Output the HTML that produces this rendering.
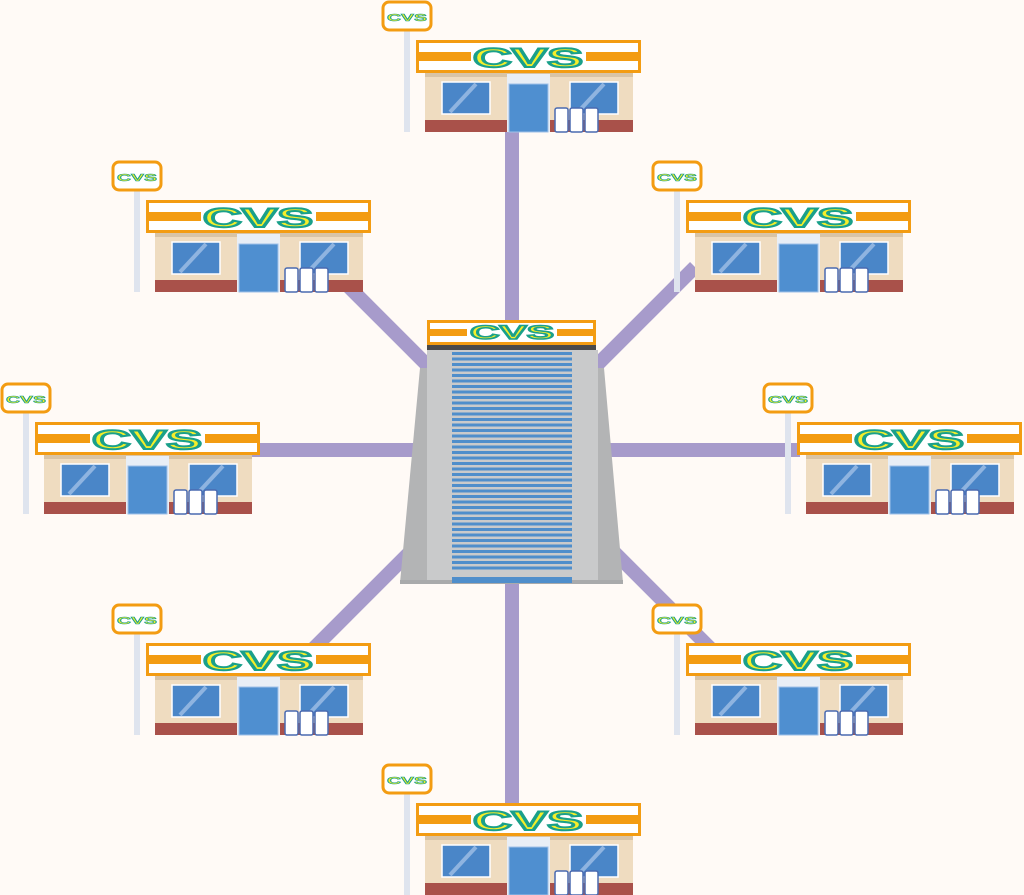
<!DOCTYPE html>
<html><head><meta charset="utf-8"><style>html,body{margin:0;padding:0;background:#fffaf6;}svg{display:block}</style></head>
<body>
<svg width="1024" height="895" viewBox="0 0 1024 895" xmlns="http://www.w3.org/2000/svg" font-family="Liberation Sans, sans-serif">
<defs>
<linearGradient id="g" x1="0" y1="0" x2="0" y2="1"><stop offset="0" stop-color="#4a88cc"/><stop offset="1" stop-color="#4a88cc"/></linearGradient>
</defs>
<g stroke="#a79bcb" stroke-width="14" stroke-linecap="butt">
<line x1="512" y1="450" x2="512" y2="130"/>
<line x1="512" y1="450" x2="512" y2="805"/>
<line x1="512" y1="450" x2="250" y2="450"/>
<line x1="512" y1="450" x2="800" y2="450"/>
<line x1="512" y1="450" x2="340" y2="278"/>
<line x1="512" y1="450" x2="695" y2="267"/>
<line x1="512" y1="450" x2="300" y2="662"/>
<line x1="512" y1="450" x2="720" y2="658"/>
</g>
<!-- central building -->
<polygon points="420,368 427,368 427,583 400,583" fill="#b3b4b5"/>
<polygon points="598,368 604,368 623,583 598,583" fill="#b3b4b5"/>
<rect x="427" y="350" width="171" height="233" fill="#c9cacb"/>
<rect x="400" y="580" width="223" height="4" fill="#a9aaab"/>
<g fill="#4f8ecb">
<rect x="452" y="352" width="120" height="3"/><rect x="452" y="357.5" width="120" height="3"/><rect x="452" y="363" width="120" height="3"/><rect x="452" y="368.5" width="120" height="3"/><rect x="452" y="374" width="120" height="3"/><rect x="452" y="379.5" width="120" height="3"/><rect x="452" y="385" width="120" height="3"/><rect x="452" y="390.5" width="120" height="3"/><rect x="452" y="396" width="120" height="3"/><rect x="452" y="401.5" width="120" height="3"/><rect x="452" y="407" width="120" height="3"/><rect x="452" y="412.5" width="120" height="3"/><rect x="452" y="418" width="120" height="3"/><rect x="452" y="423.5" width="120" height="3"/><rect x="452" y="429" width="120" height="3"/><rect x="452" y="434.5" width="120" height="3"/><rect x="452" y="440" width="120" height="3"/><rect x="452" y="445.5" width="120" height="3"/><rect x="452" y="451" width="120" height="3"/><rect x="452" y="456.5" width="120" height="3"/><rect x="452" y="462" width="120" height="3"/><rect x="452" y="467.5" width="120" height="3"/><rect x="452" y="473" width="120" height="3"/><rect x="452" y="478.5" width="120" height="3"/><rect x="452" y="484" width="120" height="3"/><rect x="452" y="489.5" width="120" height="3"/><rect x="452" y="495" width="120" height="3"/><rect x="452" y="500.5" width="120" height="3"/><rect x="452" y="506" width="120" height="3"/><rect x="452" y="511.5" width="120" height="3"/><rect x="452" y="517" width="120" height="3"/><rect x="452" y="522.5" width="120" height="3"/><rect x="452" y="528" width="120" height="3"/><rect x="452" y="533.5" width="120" height="3"/><rect x="452" y="539" width="120" height="3"/><rect x="452" y="544.5" width="120" height="3"/><rect x="452" y="550" width="120" height="3"/><rect x="452" y="555.5" width="120" height="3"/><rect x="452" y="561" width="120" height="3"/><rect x="452" y="566.5" width="120" height="3"/>
<rect x="452" y="577" width="120" height="6"/>
</g>
<rect x="427" y="344" width="169" height="6" fill="#4a4a4a"/>
<rect x="427" y="320" width="169" height="25" fill="#f39c12"/>
<rect x="430" y="323" width="163" height="19" fill="#fff"/>
<rect x="430" y="329" width="163" height="7" fill="#f39c12"/>
<rect x="467" y="324" width="90" height="17" fill="#fff"/>
<text x="512" y="339" text-anchor="middle" font-size="19" font-weight="bold" fill="#f4ee2a" stroke="#1aa08a" stroke-width="1.5" textLength="84" lengthAdjust="spacingAndGlyphs">CVS</text>

<!-- store template repeated -->
<g transform="translate(416,40)">
<rect x="-12" y="-12" width="6" height="104" fill="#dfe4ee"/>
<rect x="-33" y="-38" width="48" height="28" rx="6" fill="#fff" stroke="#f39c12" stroke-width="3"/>
<text x="-9" y="-19" text-anchor="middle" font-size="10" font-weight="bold" fill="#f4ee2a" stroke="#1aa08a" stroke-width="0.6" textLength="40" lengthAdjust="spacingAndGlyphs">CVS</text>
<rect x="9" y="33" width="208" height="59" fill="#efdcc0"/><rect x="9" y="33" width="208" height="4" fill="#d8c4a6"/>
<rect x="9" y="80" width="208" height="12" fill="#a9514a"/>
<rect x="26" y="42" width="48" height="32" fill="#4a86c8" stroke="#fff" stroke-width="1.5"/><line x1="34" y1="72" x2="60" y2="44" stroke="#8fb4e0" stroke-width="4"/>
<rect x="154" y="42" width="48" height="32" fill="#4a86c8" stroke="#fff" stroke-width="1.5"/><line x1="162" y1="72" x2="188" y2="44" stroke="#8fb4e0" stroke-width="4"/>
<rect x="91" y="34" width="43" height="58" fill="#e8eef6"/><rect x="93" y="44" width="39" height="48" fill="#4f8fd0" stroke="#9fc0e8"/>
<rect x="139" y="68" width="13" height="24" rx="2" fill="#fff" stroke="#4a6ab0" stroke-width="1.5"/><rect x="154" y="68" width="13" height="24" rx="2" fill="#fff" stroke="#4a6ab0" stroke-width="1.5"/><rect x="169" y="68" width="13" height="24" rx="2" fill="#fff" stroke="#4a6ab0" stroke-width="1.5"/>
<rect x="0" y="0" width="225" height="33" fill="#f39c12"/><rect x="3" y="3" width="219" height="27" fill="#fff"/><rect x="3" y="12" width="219" height="9" fill="#f39c12"/><rect x="55" y="4" width="115" height="25" fill="#fff"/>
<text x="112" y="27" text-anchor="middle" font-size="27" font-weight="bold" fill="#f4ee2a" stroke="#1aa08a" stroke-width="2" textLength="110" lengthAdjust="spacingAndGlyphs">CVS</text>
</g>
<g transform="translate(146,200)">
<rect x="-12" y="-12" width="6" height="104" fill="#dfe4ee"/>
<rect x="-33" y="-38" width="48" height="28" rx="6" fill="#fff" stroke="#f39c12" stroke-width="3"/>
<text x="-9" y="-19" text-anchor="middle" font-size="10" font-weight="bold" fill="#f4ee2a" stroke="#1aa08a" stroke-width="0.6" textLength="40" lengthAdjust="spacingAndGlyphs">CVS</text>
<rect x="9" y="33" width="208" height="59" fill="#efdcc0"/><rect x="9" y="33" width="208" height="4" fill="#d8c4a6"/>
<rect x="9" y="80" width="208" height="12" fill="#a9514a"/>
<rect x="26" y="42" width="48" height="32" fill="#4a86c8" stroke="#fff" stroke-width="1.5"/><line x1="34" y1="72" x2="60" y2="44" stroke="#8fb4e0" stroke-width="4"/>
<rect x="154" y="42" width="48" height="32" fill="#4a86c8" stroke="#fff" stroke-width="1.5"/><line x1="162" y1="72" x2="188" y2="44" stroke="#8fb4e0" stroke-width="4"/>
<rect x="91" y="34" width="43" height="58" fill="#e8eef6"/><rect x="93" y="44" width="39" height="48" fill="#4f8fd0" stroke="#9fc0e8"/>
<rect x="139" y="68" width="13" height="24" rx="2" fill="#fff" stroke="#4a6ab0" stroke-width="1.5"/><rect x="154" y="68" width="13" height="24" rx="2" fill="#fff" stroke="#4a6ab0" stroke-width="1.5"/><rect x="169" y="68" width="13" height="24" rx="2" fill="#fff" stroke="#4a6ab0" stroke-width="1.5"/>
<rect x="0" y="0" width="225" height="33" fill="#f39c12"/><rect x="3" y="3" width="219" height="27" fill="#fff"/><rect x="3" y="12" width="219" height="9" fill="#f39c12"/><rect x="55" y="4" width="115" height="25" fill="#fff"/>
<text x="112" y="27" text-anchor="middle" font-size="27" font-weight="bold" fill="#f4ee2a" stroke="#1aa08a" stroke-width="2" textLength="110" lengthAdjust="spacingAndGlyphs">CVS</text>
</g>
<g transform="translate(686,200)">
<rect x="-12" y="-12" width="6" height="104" fill="#dfe4ee"/>
<rect x="-33" y="-38" width="48" height="28" rx="6" fill="#fff" stroke="#f39c12" stroke-width="3"/>
<text x="-9" y="-19" text-anchor="middle" font-size="10" font-weight="bold" fill="#f4ee2a" stroke="#1aa08a" stroke-width="0.6" textLength="40" lengthAdjust="spacingAndGlyphs">CVS</text>
<rect x="9" y="33" width="208" height="59" fill="#efdcc0"/><rect x="9" y="33" width="208" height="4" fill="#d8c4a6"/>
<rect x="9" y="80" width="208" height="12" fill="#a9514a"/>
<rect x="26" y="42" width="48" height="32" fill="#4a86c8" stroke="#fff" stroke-width="1.5"/><line x1="34" y1="72" x2="60" y2="44" stroke="#8fb4e0" stroke-width="4"/>
<rect x="154" y="42" width="48" height="32" fill="#4a86c8" stroke="#fff" stroke-width="1.5"/><line x1="162" y1="72" x2="188" y2="44" stroke="#8fb4e0" stroke-width="4"/>
<rect x="91" y="34" width="43" height="58" fill="#e8eef6"/><rect x="93" y="44" width="39" height="48" fill="#4f8fd0" stroke="#9fc0e8"/>
<rect x="139" y="68" width="13" height="24" rx="2" fill="#fff" stroke="#4a6ab0" stroke-width="1.5"/><rect x="154" y="68" width="13" height="24" rx="2" fill="#fff" stroke="#4a6ab0" stroke-width="1.5"/><rect x="169" y="68" width="13" height="24" rx="2" fill="#fff" stroke="#4a6ab0" stroke-width="1.5"/>
<rect x="0" y="0" width="225" height="33" fill="#f39c12"/><rect x="3" y="3" width="219" height="27" fill="#fff"/><rect x="3" y="12" width="219" height="9" fill="#f39c12"/><rect x="55" y="4" width="115" height="25" fill="#fff"/>
<text x="112" y="27" text-anchor="middle" font-size="27" font-weight="bold" fill="#f4ee2a" stroke="#1aa08a" stroke-width="2" textLength="110" lengthAdjust="spacingAndGlyphs">CVS</text>
</g>
<g transform="translate(35,422)">
<rect x="-12" y="-12" width="6" height="104" fill="#dfe4ee"/>
<rect x="-33" y="-38" width="48" height="28" rx="6" fill="#fff" stroke="#f39c12" stroke-width="3"/>
<text x="-9" y="-19" text-anchor="middle" font-size="10" font-weight="bold" fill="#f4ee2a" stroke="#1aa08a" stroke-width="0.6" textLength="40" lengthAdjust="spacingAndGlyphs">CVS</text>
<rect x="9" y="33" width="208" height="59" fill="#efdcc0"/><rect x="9" y="33" width="208" height="4" fill="#d8c4a6"/>
<rect x="9" y="80" width="208" height="12" fill="#a9514a"/>
<rect x="26" y="42" width="48" height="32" fill="#4a86c8" stroke="#fff" stroke-width="1.5"/><line x1="34" y1="72" x2="60" y2="44" stroke="#8fb4e0" stroke-width="4"/>
<rect x="154" y="42" width="48" height="32" fill="#4a86c8" stroke="#fff" stroke-width="1.5"/><line x1="162" y1="72" x2="188" y2="44" stroke="#8fb4e0" stroke-width="4"/>
<rect x="91" y="34" width="43" height="58" fill="#e8eef6"/><rect x="93" y="44" width="39" height="48" fill="#4f8fd0" stroke="#9fc0e8"/>
<rect x="139" y="68" width="13" height="24" rx="2" fill="#fff" stroke="#4a6ab0" stroke-width="1.5"/><rect x="154" y="68" width="13" height="24" rx="2" fill="#fff" stroke="#4a6ab0" stroke-width="1.5"/><rect x="169" y="68" width="13" height="24" rx="2" fill="#fff" stroke="#4a6ab0" stroke-width="1.5"/>
<rect x="0" y="0" width="225" height="33" fill="#f39c12"/><rect x="3" y="3" width="219" height="27" fill="#fff"/><rect x="3" y="12" width="219" height="9" fill="#f39c12"/><rect x="55" y="4" width="115" height="25" fill="#fff"/>
<text x="112" y="27" text-anchor="middle" font-size="27" font-weight="bold" fill="#f4ee2a" stroke="#1aa08a" stroke-width="2" textLength="110" lengthAdjust="spacingAndGlyphs">CVS</text>
</g>
<g transform="translate(797,422)">
<rect x="-12" y="-12" width="6" height="104" fill="#dfe4ee"/>
<rect x="-33" y="-38" width="48" height="28" rx="6" fill="#fff" stroke="#f39c12" stroke-width="3"/>
<text x="-9" y="-19" text-anchor="middle" font-size="10" font-weight="bold" fill="#f4ee2a" stroke="#1aa08a" stroke-width="0.6" textLength="40" lengthAdjust="spacingAndGlyphs">CVS</text>
<rect x="9" y="33" width="208" height="59" fill="#efdcc0"/><rect x="9" y="33" width="208" height="4" fill="#d8c4a6"/>
<rect x="9" y="80" width="208" height="12" fill="#a9514a"/>
<rect x="26" y="42" width="48" height="32" fill="#4a86c8" stroke="#fff" stroke-width="1.5"/><line x1="34" y1="72" x2="60" y2="44" stroke="#8fb4e0" stroke-width="4"/>
<rect x="154" y="42" width="48" height="32" fill="#4a86c8" stroke="#fff" stroke-width="1.5"/><line x1="162" y1="72" x2="188" y2="44" stroke="#8fb4e0" stroke-width="4"/>
<rect x="91" y="34" width="43" height="58" fill="#e8eef6"/><rect x="93" y="44" width="39" height="48" fill="#4f8fd0" stroke="#9fc0e8"/>
<rect x="139" y="68" width="13" height="24" rx="2" fill="#fff" stroke="#4a6ab0" stroke-width="1.5"/><rect x="154" y="68" width="13" height="24" rx="2" fill="#fff" stroke="#4a6ab0" stroke-width="1.5"/><rect x="169" y="68" width="13" height="24" rx="2" fill="#fff" stroke="#4a6ab0" stroke-width="1.5"/>
<rect x="0" y="0" width="225" height="33" fill="#f39c12"/><rect x="3" y="3" width="219" height="27" fill="#fff"/><rect x="3" y="12" width="219" height="9" fill="#f39c12"/><rect x="55" y="4" width="115" height="25" fill="#fff"/>
<text x="112" y="27" text-anchor="middle" font-size="27" font-weight="bold" fill="#f4ee2a" stroke="#1aa08a" stroke-width="2" textLength="110" lengthAdjust="spacingAndGlyphs">CVS</text>
</g>
<g transform="translate(146,643)">
<rect x="-12" y="-12" width="6" height="104" fill="#dfe4ee"/>
<rect x="-33" y="-38" width="48" height="28" rx="6" fill="#fff" stroke="#f39c12" stroke-width="3"/>
<text x="-9" y="-19" text-anchor="middle" font-size="10" font-weight="bold" fill="#f4ee2a" stroke="#1aa08a" stroke-width="0.6" textLength="40" lengthAdjust="spacingAndGlyphs">CVS</text>
<rect x="9" y="33" width="208" height="59" fill="#efdcc0"/><rect x="9" y="33" width="208" height="4" fill="#d8c4a6"/>
<rect x="9" y="80" width="208" height="12" fill="#a9514a"/>
<rect x="26" y="42" width="48" height="32" fill="#4a86c8" stroke="#fff" stroke-width="1.5"/><line x1="34" y1="72" x2="60" y2="44" stroke="#8fb4e0" stroke-width="4"/>
<rect x="154" y="42" width="48" height="32" fill="#4a86c8" stroke="#fff" stroke-width="1.5"/><line x1="162" y1="72" x2="188" y2="44" stroke="#8fb4e0" stroke-width="4"/>
<rect x="91" y="34" width="43" height="58" fill="#e8eef6"/><rect x="93" y="44" width="39" height="48" fill="#4f8fd0" stroke="#9fc0e8"/>
<rect x="139" y="68" width="13" height="24" rx="2" fill="#fff" stroke="#4a6ab0" stroke-width="1.5"/><rect x="154" y="68" width="13" height="24" rx="2" fill="#fff" stroke="#4a6ab0" stroke-width="1.5"/><rect x="169" y="68" width="13" height="24" rx="2" fill="#fff" stroke="#4a6ab0" stroke-width="1.5"/>
<rect x="0" y="0" width="225" height="33" fill="#f39c12"/><rect x="3" y="3" width="219" height="27" fill="#fff"/><rect x="3" y="12" width="219" height="9" fill="#f39c12"/><rect x="55" y="4" width="115" height="25" fill="#fff"/>
<text x="112" y="27" text-anchor="middle" font-size="27" font-weight="bold" fill="#f4ee2a" stroke="#1aa08a" stroke-width="2" textLength="110" lengthAdjust="spacingAndGlyphs">CVS</text>
</g>
<g transform="translate(686,643)">
<rect x="-12" y="-12" width="6" height="104" fill="#dfe4ee"/>
<rect x="-33" y="-38" width="48" height="28" rx="6" fill="#fff" stroke="#f39c12" stroke-width="3"/>
<text x="-9" y="-19" text-anchor="middle" font-size="10" font-weight="bold" fill="#f4ee2a" stroke="#1aa08a" stroke-width="0.6" textLength="40" lengthAdjust="spacingAndGlyphs">CVS</text>
<rect x="9" y="33" width="208" height="59" fill="#efdcc0"/><rect x="9" y="33" width="208" height="4" fill="#d8c4a6"/>
<rect x="9" y="80" width="208" height="12" fill="#a9514a"/>
<rect x="26" y="42" width="48" height="32" fill="#4a86c8" stroke="#fff" stroke-width="1.5"/><line x1="34" y1="72" x2="60" y2="44" stroke="#8fb4e0" stroke-width="4"/>
<rect x="154" y="42" width="48" height="32" fill="#4a86c8" stroke="#fff" stroke-width="1.5"/><line x1="162" y1="72" x2="188" y2="44" stroke="#8fb4e0" stroke-width="4"/>
<rect x="91" y="34" width="43" height="58" fill="#e8eef6"/><rect x="93" y="44" width="39" height="48" fill="#4f8fd0" stroke="#9fc0e8"/>
<rect x="139" y="68" width="13" height="24" rx="2" fill="#fff" stroke="#4a6ab0" stroke-width="1.5"/><rect x="154" y="68" width="13" height="24" rx="2" fill="#fff" stroke="#4a6ab0" stroke-width="1.5"/><rect x="169" y="68" width="13" height="24" rx="2" fill="#fff" stroke="#4a6ab0" stroke-width="1.5"/>
<rect x="0" y="0" width="225" height="33" fill="#f39c12"/><rect x="3" y="3" width="219" height="27" fill="#fff"/><rect x="3" y="12" width="219" height="9" fill="#f39c12"/><rect x="55" y="4" width="115" height="25" fill="#fff"/>
<text x="112" y="27" text-anchor="middle" font-size="27" font-weight="bold" fill="#f4ee2a" stroke="#1aa08a" stroke-width="2" textLength="110" lengthAdjust="spacingAndGlyphs">CVS</text>
</g>
<g transform="translate(416,803)">
<rect x="-12" y="-12" width="6" height="104" fill="#dfe4ee"/>
<rect x="-33" y="-38" width="48" height="28" rx="6" fill="#fff" stroke="#f39c12" stroke-width="3"/>
<text x="-9" y="-19" text-anchor="middle" font-size="10" font-weight="bold" fill="#f4ee2a" stroke="#1aa08a" stroke-width="0.6" textLength="40" lengthAdjust="spacingAndGlyphs">CVS</text>
<rect x="9" y="33" width="208" height="59" fill="#efdcc0"/><rect x="9" y="33" width="208" height="4" fill="#d8c4a6"/>
<rect x="9" y="80" width="208" height="12" fill="#a9514a"/>
<rect x="26" y="42" width="48" height="32" fill="#4a86c8" stroke="#fff" stroke-width="1.5"/><line x1="34" y1="72" x2="60" y2="44" stroke="#8fb4e0" stroke-width="4"/>
<rect x="154" y="42" width="48" height="32" fill="#4a86c8" stroke="#fff" stroke-width="1.5"/><line x1="162" y1="72" x2="188" y2="44" stroke="#8fb4e0" stroke-width="4"/>
<rect x="91" y="34" width="43" height="58" fill="#e8eef6"/><rect x="93" y="44" width="39" height="48" fill="#4f8fd0" stroke="#9fc0e8"/>
<rect x="139" y="68" width="13" height="24" rx="2" fill="#fff" stroke="#4a6ab0" stroke-width="1.5"/><rect x="154" y="68" width="13" height="24" rx="2" fill="#fff" stroke="#4a6ab0" stroke-width="1.5"/><rect x="169" y="68" width="13" height="24" rx="2" fill="#fff" stroke="#4a6ab0" stroke-width="1.5"/>
<rect x="0" y="0" width="225" height="33" fill="#f39c12"/><rect x="3" y="3" width="219" height="27" fill="#fff"/><rect x="3" y="12" width="219" height="9" fill="#f39c12"/><rect x="55" y="4" width="115" height="25" fill="#fff"/>
<text x="112" y="27" text-anchor="middle" font-size="27" font-weight="bold" fill="#f4ee2a" stroke="#1aa08a" stroke-width="2" textLength="110" lengthAdjust="spacingAndGlyphs">CVS</text>
</g>
</svg>
</body></html>
